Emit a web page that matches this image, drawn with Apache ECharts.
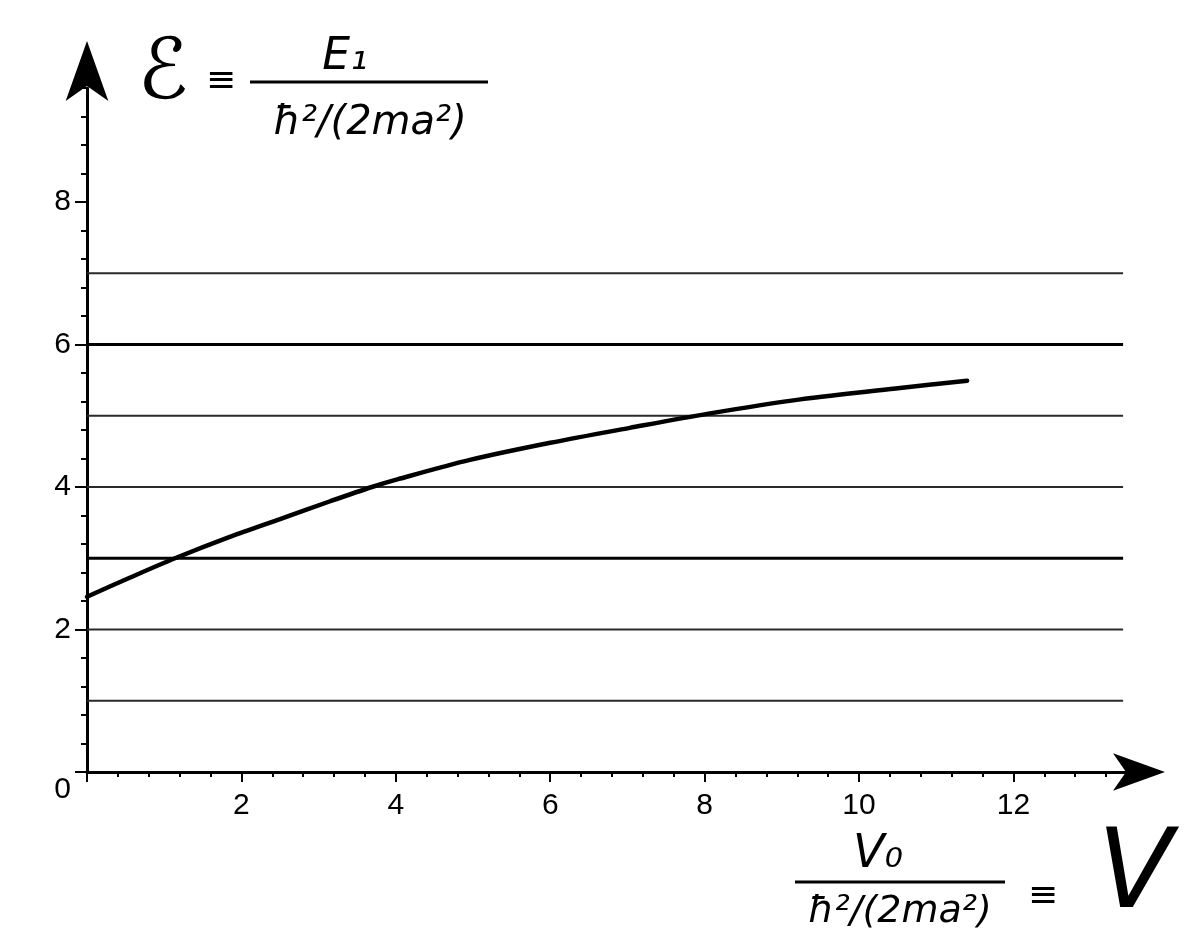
<!DOCTYPE html>
<html><head><meta charset="utf-8">
<script src="https://cdn.jsdelivr.net/npm/echarts@6/dist/echarts.min.js"></script>
<style>html,body{margin:0;padding:0;background:#fff}#c{width:1184px;height:944px}</style>
</head><body><div id="c"></div>
<script>
// ---- data ----
const potentialV = [0, 0.56, 1.14, 1.85, 2.5, 3.15, 3.69, 4.03, 4.96, 6.0, 7.03, 8.05, 9.24, 10.53, 11.4];
const energyE    = [2.46, 2.73, 3.0, 3.30, 3.55, 3.80, 4.0, 4.11, 4.38, 4.62, 4.83, 5.03, 5.23, 5.39, 5.49];
const levelValues = [1, 2, 3, 4, 5, 6, 7];
const levelStrong = [3, 6];
const levelSpanV = [0, 13.42];
const xTickLabels = ['2', '4', '6', '8', '10', '12'];
const yTickLabels = ['0', '2', '4', '6', '8'];
const yTitleSymbol = 'ℰ';
const titleEq = '≡';
const yTitleNum = 'E₁';
const titleDen = 'ħ²/(2ma²)';
const xTitleNum = 'V₀';
const xTitleSymbol = 'V';

const chart = echarts.init(document.getElementById('c'), null, {renderer: 'canvas'});
const FONT = 'Liberation Sans, Arial, sans-serif';
const HAND = 'DejaVu Sans, sans-serif';

const series = [];
levelValues.forEach(function (v) {
  const strong = levelStrong.indexOf(v) >= 0;
  series.push({
    type: 'line', silent: true, showSymbol: false, z: 1,
    data: levelSpanV.map(function (x) { return [x, v]; }),
    lineStyle: {color: strong ? '#000' : '#2a2a2a', width: strong ? 3 : 2}
  });
});
series.push({
  type: 'line', showSymbol: false, smooth: 0.3, z: 5,
  data: potentialV.map(function (x, i) { return [x, energyE[i]]; }),
  lineStyle: {color: '#000', width: 4.5, cap: 'round'}
});

const xMajor = [0].concat(xTickLabels.map(Number));
const yMajor = yTickLabels.map(Number);

const baseX = {type: 'value', min: 0, max: 13.6, position: 'bottom', splitLine: {show: false}};
const baseY = {type: 'value', min: 0, max: 9.6, position: 'left', splitLine: {show: false}};

chart.setOption({
  animation: false,
  backgroundColor: '#fff',
  grid: {left: 87, right: 47, top: 88, bottom: 172, outerBoundsMode: 'none'},
  xAxis: [
    Object.assign({}, baseX, {
      interval: 2,
      axisLine: {show: true, lineStyle: {color: '#000', width: 3}, symbol: ['none', 'arrow'], symbolSize: [28, 52], symbolOffset: [0, 28]},
      axisTick: {show: true, length: 10, customValues: xMajor, lineStyle: {color: '#000', width: 2}},
      axisLabel: {
        color: '#000', fontSize: 30, fontFamily: FONT, margin: 19,
        customValues: xTickLabels.map(Number),
        formatter: function (v) { const s = String(v); return xTickLabels.indexOf(s) >= 0 ? s : ''; }
      }
    }),
    Object.assign({}, baseX, {
      interval: 0.4,
      axisLine: {show: false},
      axisTick: {show: true, length: 5, lineStyle: {color: '#000', width: 2}},
      axisLabel: {show: false}
    })
  ],
  yAxis: [
    Object.assign({}, baseY, {
      interval: 2,
      axisLine: {show: true, lineStyle: {color: '#000', width: 3}, symbol: ['none', 'arrow'], symbolSize: [32, 60], symbolOffset: [0, 47]},
      axisTick: {show: true, length: 12, customValues: yMajor, lineStyle: {color: '#000', width: 2}},
      axisLabel: {
        color: '#000', fontSize: 30, fontFamily: FONT, margin: 16,
        customValues: yMajor,
        formatter: function (v) {
          const s = String(v);
          if (v === 0) return '{z|0}';
          return yTickLabels.indexOf(s) >= 0 ? s : '';
        },
        rich: {z: {fontSize: 30, fontFamily: FONT, color: '#000', padding: [36, 0, 0, 0]}}
      }
    }),
    Object.assign({}, baseY, {
      interval: 0.4,
      axisLine: {show: false},
      axisTick: {show: true, length: 6, lineStyle: {color: '#000', width: 2}},
      axisLabel: {show: false}
    })
  ],
  series: series,
  graphic: [
    {type: 'text', x: 163, y: 76, style: {text: yTitleSymbol, font: 'italic 84px ' + HAND, fill: '#000', align: 'center', verticalAlign: 'middle'}},
    {type: 'text', x: 221, y: 82, style: {text: titleEq, font: '36px ' + HAND, fill: '#000', align: 'center', verticalAlign: 'middle'}},
    {type: 'text', x: 345, y: 58, style: {text: yTitleNum, font: 'italic 44px ' + HAND, fill: '#000', align: 'center', verticalAlign: 'middle'}},
    {type: 'line', shape: {x1: 250, y1: 82, x2: 488, y2: 82}, style: {stroke: '#000', lineWidth: 3}},
    {type: 'text', x: 370, y: 124, style: {text: titleDen, font: 'italic 40px ' + HAND, fill: '#000', align: 'center', verticalAlign: 'middle'}},
    {type: 'text', x: 878, y: 855, style: {text: xTitleNum, font: 'italic 46px ' + HAND, fill: '#000', align: 'center', verticalAlign: 'middle'}},
    {type: 'line', shape: {x1: 795, y1: 882, x2: 1005, y2: 882}, style: {stroke: '#000', lineWidth: 3}},
    {type: 'text', x: 900, y: 912, style: {text: titleDen, font: 'italic 38px ' + HAND, fill: '#000', align: 'center', verticalAlign: 'middle'}},
    {type: 'text', x: 1043, y: 897, style: {text: titleEq, font: '36px ' + HAND, fill: '#000', align: 'center', verticalAlign: 'middle'}},
    {type: 'text', x: 1135, y: 878, style: {text: xTitleSymbol, font: 'italic 110px ' + HAND, fill: '#000', align: 'center', verticalAlign: 'middle'}}
  ]
});
</script>
</body></html>
